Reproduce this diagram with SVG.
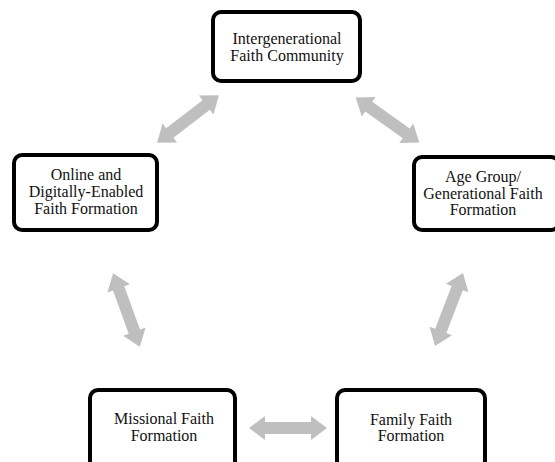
<svg xmlns="http://www.w3.org/2000/svg" xmlns:xlink="http://www.w3.org/1999/xlink" width="555" height="462" viewBox="0 0 555 462">
<style>
.box{fill:#fff;stroke:#000;stroke-width:4}
.t{font-family:"Liberation Serif",serif;font-size:16px;fill:#111;text-anchor:middle}
.arr{fill:#bfbfbf}
</style>
<defs>
<polygon id="dbl" class="arr" points="-39,0 -23,-12 -23,-6 23,-6 23,-12 39,0 23,12 23,6 -23,6 -23,12"/>
</defs>
<rect width="555" height="462" fill="#fff"/>
<g id="connectors">
<use xlink:href="#dbl" transform="translate(188,119) rotate(-37.7)"/>
<use xlink:href="#dbl" transform="translate(387.5,120) rotate(35.3)"/>
<use xlink:href="#dbl" transform="translate(126.5,310) rotate(70)"/>
<use xlink:href="#dbl" transform="translate(449,309.5) rotate(-69)"/>
<use xlink:href="#dbl" transform="translate(288,428)"/>
</g>
<g id="n-intergen">
<rect class="box" x="213" y="12" width="147" height="69" rx="8"/>
<text class="t" x="287" y="44">Intergenerational</text>
<text class="t" x="287" y="61">Faith Community</text>
</g>
<g id="n-online">
<rect class="box" x="14" y="155" width="143" height="75" rx="8"/>
<text class="t" x="86" y="180">Online and</text>
<text class="t" x="86" y="197">Digitally-Enabled</text>
<text class="t" x="86" y="214">Faith Formation</text>
</g>
<g id="n-age">
<rect class="box" x="414" y="157" width="145" height="73" rx="8"/>
<text class="t" x="483" y="182">Age Group/</text>
<text class="t" x="483" y="199">Generational Faith</text>
<text class="t" x="483" y="215">Formation</text>
</g>
<g id="n-missional">
<rect class="box" x="90" y="390" width="145" height="80" rx="8"/>
<text class="t" x="164" y="424">Missional Faith</text>
<text class="t" x="164" y="441">Formation</text>
</g>
<g id="n-family">
<rect class="box" x="337" y="390" width="148" height="80" rx="8"/>
<text class="t" x="411" y="425">Family Faith</text>
<text class="t" x="411" y="441">Formation</text>
</g>
</svg>
